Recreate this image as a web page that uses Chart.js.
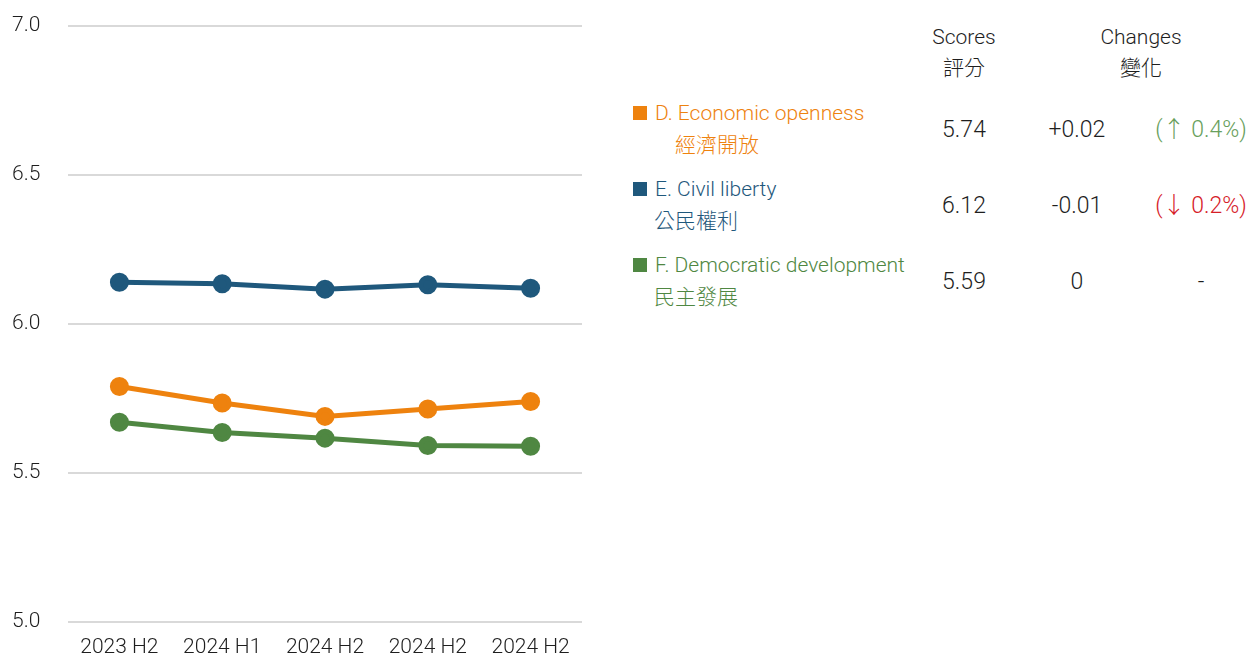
<!DOCTYPE html>
<html>
<head>
<meta charset="utf-8">
<script src="https://cdn.jsdelivr.net/npm/chart.js@4"></script>
<style>
    html, body { margin: 0; padding: 0; background: #fff; }
    body { width: 1249px; height: 657px; position: relative; overflow: hidden;
           font-family: Roboto, "Noto Sans CJK TC", sans-serif; font-weight: 300; color: #1e1e1e; }
    #trendChart { position: absolute; left: 0; top: 0; }
    .cell { position: absolute; white-space: nowrap; font-size: 21px; line-height: 26px; }
    .num { font-size: 23px; }
    .center { transform: translateX(-50%); text-align: center; }
    .swatch { position: absolute; width: 14px; height: 14px; }
</style>
</head>
<body>
<canvas id="trendChart" width="600" height="657"></canvas>
<div id="table"></div>
<script>
// Chart data
const periods = ['2023 H2', '2024 H1', '2024 H2', '2024 H2', '2024 H2'];
const economicOpenness = [5.79, 5.735, 5.69, 5.715, 5.74];
const civilLiberty = [6.14, 6.135, 6.117, 6.132, 6.12];
const democraticDev = [5.67, 5.636, 5.617, 5.592, 5.59];
const yTicks = [5.0, 5.5, 6.0, 6.5, 7.0];

// Side table data
const seriesNames = ['D. Economic openness', 'E. Civil liberty', 'F. Democratic development'];
const seriesNamesZh = ['經濟開放', '公民權利', '民主發展'];
const scores = ['5.74', '6.12', '5.59'];
const changes = ['+0.02', '-0.01', '0'];
const changePct = ['(\u2191 0.4%)', '(\u2193 0.2%)', '-'];

const colors = ['rgb(238, 130, 14)', 'rgb(31, 88, 124)', 'rgb(79, 135, 66)'];
const pctColors = ['rgb(104, 160, 92)', 'rgb(214, 32, 40)', '#1e1e1e'];

document.addEventListener('DOMContentLoaded', function() {
    const seriesData = [economicOpenness, civilLiberty, democraticDev];
    const tickFont = { family: 'Roboto', size: 21, weight: 300 };

    new Chart(document.getElementById('trendChart'), {
        type: 'line',
        data: {
            labels: periods,
            datasets: seriesData.map((values, i) => ({
                label: seriesNames[i],
                data: values,
                borderColor: colors[i],
                backgroundColor: colors[i],
                borderWidth: 5,
                pointRadius: 7,
                pointHoverRadius: 7,
                tension: 0
            }))
        },
        options: {
            responsive: false,
            animation: false,
            layout: { padding: { top: 26, right: 18, left: 12, bottom: 0 } },
            plugins: { legend: { display: false }, tooltip: { enabled: false } },
            scales: {
                x: {
                    offset: true,
                    grid: { display: false },
                    border: { display: false },
                    ticks: { color: '#1e1e1e', padding: 5, font: tickFont },
                    afterFit: scale => { scale.height = 35; }
                },
                y: {
                    min: 5.0,
                    max: 7.0,
                    afterBuildTicks: scale => { scale.ticks = yTicks.map(v => ({ value: v })); },
                    grid: { color: '#d9d9d9', lineWidth: 2, drawTicks: false },
                    border: { display: false },
                    ticks: {
                        color: '#1e1e1e',
                        padding: 0,
                        crossAlign: 'far',
                        font: tickFont,
                        callback: v => v.toFixed(1)
                    },
                    afterFit: scale => { scale.width = 56; }
                }
            }
        }
    });

    // Side table
    const table = document.getElementById('table');
    function addCell(text, x, y, color, centered, extra) {
        const el = document.createElement('div');
        el.className = 'cell' + (centered ? ' center' : '') + (extra ? ' ' + extra : '');
        el.textContent = text;
        el.style.left = x + 'px';
        el.style.top = y + 'px';
        if (color) el.style.color = color;
        table.appendChild(el);
    }

    addCell('Scores', 964, 24, null, true);
    addCell('評分', 964, 55, null, true);
    addCell('Changes', 1141, 24, null, true);
    addCell('變化', 1141, 55, null, true);

    const rowTops = [100, 176, 252];
    const zhLeft = [675, 654, 654];
    rowTops.forEach((top, i) => {
        const sw = document.createElement('div');
        sw.className = 'swatch';
        sw.style.left = '633px';
        sw.style.top = (top + 6) + 'px';
        sw.style.background = colors[i];
        table.appendChild(sw);

        addCell(seriesNames[i], 655, top, colors[i], false);
        addCell(seriesNamesZh[i], zhLeft[i], top + 32, colors[i], false);
        addCell(scores[i], 964, top + 17, null, true, 'num');
        addCell(changes[i], 1077, top + 17, null, true, 'num');
        addCell(changePct[i], 1201, top + 17, pctColors[i], true, 'num');
    });
});
</script>
</body>
</html>
